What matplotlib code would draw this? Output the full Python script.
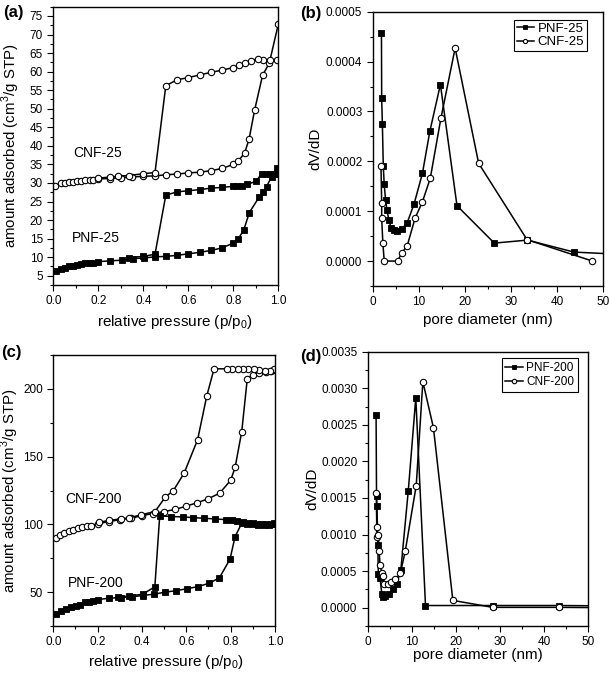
import matplotlib
matplotlib.use("Agg")
import matplotlib.pyplot as plt
from matplotlib.ticker import MultipleLocator, FormatStrFormatter

plt.rcParams["font.family"] = ["Liberation Sans", "DejaVu Sans"]
plt.rcParams["mathtext.fontset"] = "custom"
plt.rcParams["mathtext.rm"] = "Liberation Sans"

# ---------------- (a) isotherms, 25 ---------------- #
cnf25_ads_p = [0.007, 0.033, 0.052, 0.071, 0.089, 0.107, 0.122, 0.142, 0.161, 0.178, 0.2,
               0.25, 0.3, 0.35, 0.4, 0.45, 0.5, 0.55, 0.6, 0.65, 0.7, 0.75, 0.8, 0.82,
               0.85, 0.87, 0.895, 0.93, 0.96, 1.0]
cnf25_ads_v = [29.1, 29.9, 30.1, 30.3, 30.3, 30.5, 30.6, 30.8, 30.7, 30.8, 31.1,
               31.2, 31.4, 31.6, 31.8, 31.9, 32.2, 32.4, 32.7, 32.9, 33.3, 33.9, 35.0, 35.8,
               38.0, 41.8, 49.7, 59.0, 62.3, 72.8]
cnf25_des_p = [0.995, 0.963, 0.934, 0.909, 0.878, 0.852, 0.827, 0.8, 0.75, 0.7, 0.65,
               0.6, 0.55, 0.5, 0.452, 0.4, 0.335, 0.286, 0.253, 0.2]
cnf25_des_v = [63.2, 63.2, 63.2, 63.4, 63.0, 62.3, 61.8, 61.1, 60.4, 59.8, 59.1,
               58.4, 57.8, 56.2, 32.8, 32.5, 32.0, 31.8, 31.6, 31.3]

pnf25_ads_p = [0.012, 0.033, 0.052, 0.071, 0.089, 0.107, 0.122, 0.142, 0.161, 0.178, 0.2,
               0.253, 0.305, 0.355, 0.405, 0.454, 0.5, 0.55, 0.6, 0.65, 0.7, 0.75, 0.8,
               0.822, 0.847, 0.871, 0.914, 0.934, 0.948, 0.97, 0.995]
pnf25_ads_v = [6.2, 6.9, 7.2, 7.5, 7.7, 7.9, 8.1, 8.3, 8.4, 8.5, 8.8,
               9.0, 9.2, 9.6, 9.8, 10.1, 10.2, 10.5, 10.9, 11.3, 11.8, 12.5, 13.8,
               14.9, 17.4, 22.0, 26.1, 27.6, 29.0, 31.7, 34.0]
pnf25_des_p = [0.995, 0.98, 0.963, 0.945, 0.926, 0.9, 0.86, 0.84, 0.818, 0.8, 0.75,
               0.7, 0.65, 0.6, 0.55, 0.5, 0.452, 0.4, 0.335]
pnf25_des_v = [32.4, 32.3, 32.5, 32.5, 32.5, 30.4, 29.6, 29.3, 29.2, 29.1, 28.8,
               28.6, 28.2, 27.9, 27.6, 26.7, 10.8, 10.2, 9.9]

# ---------------- (b) PSD, 25 ---------------- #
pnf25_d = [1.9, 1.95, 2.1, 2.3, 2.5, 2.8, 3.1, 3.5, 4.0, 4.6, 5.3, 6.3, 7.5, 9.0, 10.8,
           12.4, 14.7, 18.3, 26.4, 33.6, 43.7, 55.0]
pnf25_dvdd = [0.000457, 0.000326, 0.000275, 0.00019, 0.000154, 0.000122, 0.000102, 0.000083,
              0.000066, 0.000063, 0.000061, 0.000064, 0.000077, 0.000115, 0.000176,
              0.00026, 0.000354, 0.000111, 0.000036, 0.000042, 0.000018, 0.000013]
cnf25_d = [1.8, 1.95, 1.95, 2.2, 2.5, 5.4, 6.3, 7.5, 9.2, 10.8, 12.5, 14.8, 17.9, 23.0,
           33.5, 47.7]
cnf25_dvdd = [0.00019, 0.000116, 0.000086, 0.000037, 0.0, 0.0, 0.000016, 0.000031,
              0.000086, 0.000119, 0.000166, 0.000286, 0.000427, 0.000196, 0.000043, 0.0]

# ---------------- (c) isotherms, 200 ---------------- #
cnf200_ads_p = [0.01, 0.03, 0.05, 0.07, 0.09, 0.11, 0.13, 0.15, 0.17, 0.2, 0.25, 0.3,
                0.35, 0.4, 0.45, 0.5, 0.55, 0.6, 0.65, 0.7, 0.75, 0.8, 0.82, 0.85,
                0.875, 0.9, 0.93, 0.96, 0.98, 1.0]
cnf200_ads_v = [90.0, 92.5, 94.0, 95.0, 96.0, 97.0, 98.0, 98.5, 99.0, 100.5, 102.0, 103.5,
                104.5, 106.5, 108.0, 109.5, 111.0, 113.5, 116.0, 119.0, 123.0, 132.5,
                142.0, 168.5, 207.5, 210.5, 212.0, 212.5, 213.0, 214.0]
cnf200_des_p = [0.995, 0.977, 0.955, 0.93, 0.906, 0.88, 0.854, 0.831, 0.805, 0.782,
                0.725, 0.692, 0.651, 0.59, 0.542, 0.505, 0.459, 0.395, 0.342, 0.305,
                0.252, 0.207]
cnf200_des_v = [215.0, 213.5, 213.5, 213.8, 214.3, 214.6, 214.8, 214.8, 214.8, 214.8,
                214.8, 194.6, 162.5, 137.8, 125.0, 120.1, 109.5, 107.0, 104.8, 104.0,
                103.0, 101.5]

pnf200_ads_p = [0.012, 0.033, 0.057, 0.078, 0.102, 0.12, 0.142, 0.162, 0.18, 0.2, 0.252,
                0.305, 0.353, 0.403, 0.455, 0.504, 0.553, 0.602, 0.651, 0.702, 0.749,
                0.797, 0.82, 0.85, 0.875, 0.9, 0.925, 0.95, 0.975, 1.0]
pnf200_ads_v = [33.7, 36.3, 37.9, 39.1, 40.0, 40.6, 43.0, 42.5, 43.5, 44.5, 45.5,
                46.0, 46.5, 47.5, 48.5, 50.0, 51.0, 52.5, 54.0, 56.5, 60.5,
                74.3, 91.0, 100.8, 100.5, 100.0, 99.5, 99.3, 99.5, 100.3]
pnf200_des_p = [0.995, 0.983, 0.96, 0.941, 0.918, 0.899, 0.876, 0.855, 0.83, 0.805,
                0.78, 0.73, 0.68, 0.631, 0.583, 0.533, 0.48, 0.458, 0.403, 0.342, 0.29]
pnf200_des_v = [101.3, 100.5, 100.0, 100.0, 100.3, 100.8, 101.3, 101.8, 102.3, 103.0,
                103.5, 104.0, 104.5, 105.0, 105.5, 105.8, 106.3, 53.9, 48.5, 47.0, 46.5]

# ---------------- (d) PSD, 200 ---------------- #
pnf200_d = [1.9, 2.0, 2.1, 2.3, 2.4, 2.8, 3.2, 3.5, 4.0, 4.8, 5.8, 6.6, 7.5, 9.2, 10.9,
            13.1, 28.3, 43.3, 55.0]
pnf200_dvdd = [0.00263, 0.00153, 0.00139, 0.00086, 0.00046, 0.0004, 0.00019, 0.00015,
               0.00016, 0.00019, 0.00026, 0.00033, 0.00051, 0.0016, 0.00287,
               0.00003, 0.00003, 0.00003, 0.000025]
cnf200_d = [1.95, 2.05, 2.0, 2.4, 2.6, 2.8, 3.2, 3.5, 3.8, 4.6, 5.3, 6.3, 7.4, 8.5,
            11.0, 12.5, 14.9, 19.3, 28.3, 43.3, 55.0]
cnf200_dvdd = [0.00157, 0.00111, 0.00097, 0.00099, 0.00077, 0.00058, 0.00048, 0.00043,
               0.00033, 0.00032, 0.00035, 0.00039, 0.00047, 0.00077, 0.00167, 0.00309,
               0.00246, 0.0001, 0.000005, 0.000005, 0.0]

W, H = 610, 673
fig = plt.figure(figsize=(W / 100, H / 100), dpi=100)


def px_axes(l, t, r, b):
    return fig.add_axes([l / W, 1 - b / H, (r - l) / W, (b - t) / H])


SQ = dict(color="black", lw=1.1, marker="s", ms=4.3, mfc="black", mec="black", mew=0.6)
CI = dict(color="black", lw=1.1, marker="o", ms=4.6, mfc="white", mec="black", mew=0.8)


def style(ax):
    ax.tick_params(which="both", direction="out", top=False, right=False, labelsize=8.5,
                   width=0.8)
    ax.tick_params(which="major", length=4)
    ax.tick_params(which="minor", length=2.2)
    for s in ax.spines.values():
        s.set_linewidth(1.0)


axa = px_axes(53.3, 6.7, 278.3, 285)
axb = px_axes(372.7, 11.7, 603, 286)
axc = px_axes(53.3, 355, 275, 626)
axd = px_axes(367.7, 351.7, 588.3, 626)

# (a)
axa.plot(cnf25_ads_p, cnf25_ads_v, **CI)
axa.plot(cnf25_des_p, cnf25_des_v, **CI)
axa.plot(pnf25_ads_p, pnf25_ads_v, **SQ)
axa.plot(pnf25_des_p, pnf25_des_v, **SQ)
axa.set_xlim(0, 1.0)
axa.set_ylim(2.5, 77.5)
axa.xaxis.set_major_locator(MultipleLocator(0.2))
axa.xaxis.set_minor_locator(MultipleLocator(0.1))
axa.xaxis.set_major_formatter(FormatStrFormatter("%.1f"))
axa.yaxis.set_major_locator(MultipleLocator(5))
axa.yaxis.set_minor_locator(MultipleLocator(2.5))
axa.text(0.088, 38.0, "CNF-25", fontsize=10, va="center")
axa.text(0.083, 15.1, "PNF-25", fontsize=10, va="center")
axa.set_xlabel("relative pressure (p/p$_0$)", fontsize=11)
axa.set_ylabel("amount adsorbed (cm$^3$/g STP)", fontsize=10.8)
axa.xaxis.set_label_coords(0.54, -0.1)
axa.yaxis.set_label_coords(-0.14, 0.5)
style(axa)

# (b)
axb.plot(pnf25_d, pnf25_dvdd, label="PNF-25", **SQ)
axb.plot(cnf25_d, cnf25_dvdd, label="CNF-25", **CI)
axb.set_xlim(0, 50)
axb.set_ylim(-0.00005, 0.0005)
axb.xaxis.set_major_locator(MultipleLocator(10))
axb.xaxis.set_minor_locator(MultipleLocator(5))
axb.yaxis.set_major_locator(MultipleLocator(0.0001))
axb.yaxis.set_minor_locator(MultipleLocator(0.00005))
axb.yaxis.set_major_formatter(FormatStrFormatter("%.4f"))
axb.set_xlabel("pore diameter (nm)", fontsize=11)
axb.set_ylabel("dV/dD", fontsize=11)
axb.xaxis.set_label_coords(0.5, -0.1)
axb.yaxis.set_label_coords(-0.22, 0.5)
leg = axb.legend(loc="upper right", bbox_to_anchor=(0.93, 0.97), borderaxespad=0,
                 fontsize=9.5, fancybox=False, edgecolor="black", framealpha=1,
                 handlelength=1.3, handletextpad=0.3, markerscale=0.65,
                 borderpad=0.2, labelspacing=0.1)
leg.get_frame().set_linewidth(0.8)
style(axb)

# (c)
axc.plot(cnf200_ads_p, cnf200_ads_v, **CI)
axc.plot(cnf200_des_p, cnf200_des_v, **CI)
axc.plot(pnf200_ads_p, pnf200_ads_v, **SQ)
axc.plot(pnf200_des_p, pnf200_des_v, **SQ)
axc.set_xlim(0, 1.0)
axc.set_ylim(25, 225)
axc.xaxis.set_major_locator(MultipleLocator(0.2))
axc.xaxis.set_minor_locator(MultipleLocator(0.1))
axc.xaxis.set_major_formatter(FormatStrFormatter("%.1f"))
axc.yaxis.set_major_locator(MultipleLocator(50))
axc.yaxis.set_minor_locator(MultipleLocator(25))
axc.text(0.053, 118.8, "CNF-200", fontsize=10, va="center")
axc.text(0.066, 56.7, "PNF-200", fontsize=10, va="center")
axc.set_xlabel("relative pressure (p/p$_0$)", fontsize=11)
axc.set_ylabel("amount adsorbed (cm$^3$/g STP)", fontsize=10.8)
axc.xaxis.set_label_coords(0.51, -0.1)
axc.yaxis.set_label_coords(-0.145, 0.5)
style(axc)

# (d)
axd.plot(pnf200_d, pnf200_dvdd, label="PNF-200", **SQ)
axd.plot(cnf200_d, cnf200_dvdd, label="CNF-200", **CI)
axd.set_xlim(0, 50)
axd.set_ylim(-0.00025, 0.0035)
axd.xaxis.set_major_locator(MultipleLocator(10))
axd.xaxis.set_minor_locator(MultipleLocator(5))
axd.yaxis.set_major_locator(MultipleLocator(0.0005))
axd.yaxis.set_minor_locator(MultipleLocator(0.00025))
axd.yaxis.set_major_formatter(FormatStrFormatter("%.4f"))
axd.set_xlabel("pore diameter (nm)", fontsize=11)
axd.set_ylabel("dV/dD", fontsize=11)
axd.xaxis.set_label_coords(0.5, -0.08)
axd.yaxis.set_label_coords(-0.22, 0.5)
leg = axd.legend(loc="upper right", bbox_to_anchor=(0.953, 0.976), borderaxespad=0,
                 fontsize=8.5, fancybox=False, edgecolor="black", framealpha=1,
                 handlelength=1.5, handletextpad=0.3, markerscale=0.7,
                 borderpad=0.3, labelspacing=0.2)
leg.get_frame().set_linewidth(0.8)
style(axd)

for lbl, x, y in [("(a)", 3, 12.5), ("(b)", 300, 13.5), ("(c)", 1, 353), ("(d)", 300, 356)]:
    fig.text(x / W, 1 - y / H, lbl, fontsize=12, fontweight="bold", va="center", ha="left")

fig.savefig("out.png", dpi=100)
